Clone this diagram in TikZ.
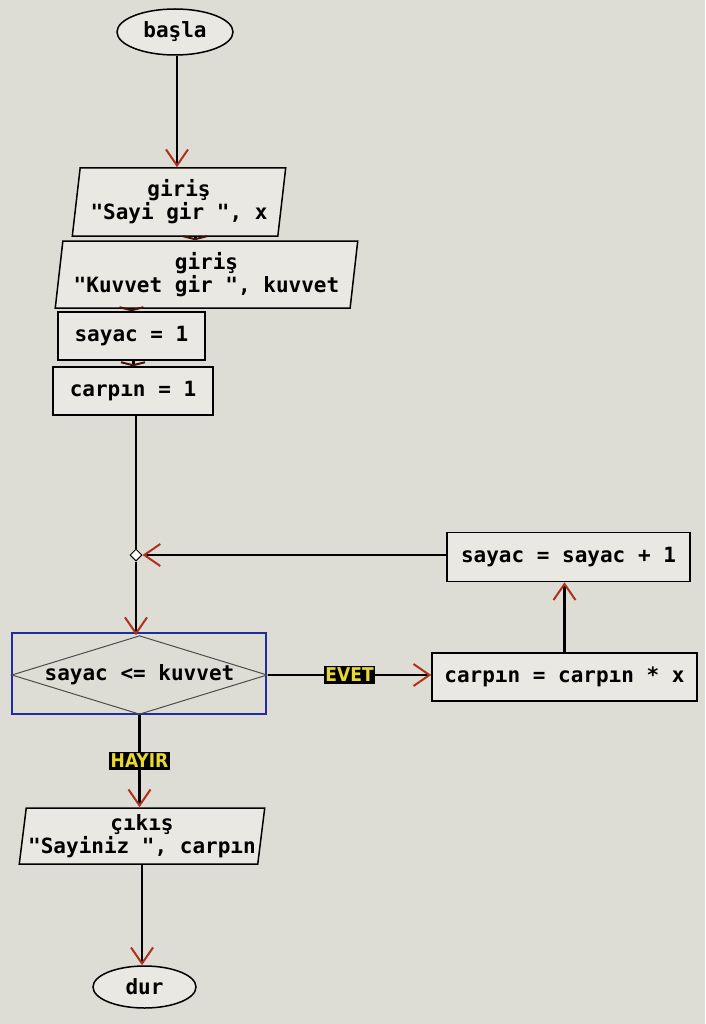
\documentclass[tikz,border=0pt]{standalone}
\usepackage{fontspec}
\newfontfamily\flowfont{DejaVu Sans Mono}
\newfontfamily\labelfont{DejaVu Sans Condensed}
\usetikzlibrary{shapes.geometric,arrows.meta}
\definecolor{screenbg}{HTML}{DEDDD5}
\definecolor{boxfill}{HTML}{E9E8E2}
\definecolor{tipred}{HTML}{B0301A}
\definecolor{frameblue}{HTML}{1E2E9E}
\definecolor{labelyellow}{HTML}{E8D830}
\tikzstyle{textfont} = [font=\flowfont\bfseries\fontsize{21}{23}\selectfont]
\tikzstyle{terminal} = [draw=black, fill=boxfill, ellipse, line width=1.5pt, inner sep=0pt, textfont]
\tikzstyle{iobox} = [draw=black, fill=boxfill, trapezium, trapezium left angle=81, trapezium right angle=99, trapezium stretches=true, line width=1.5pt, inner sep=0pt, align=center, textfont]
\tikzstyle{procbox} = [draw=black, fill=boxfill, rectangle, line width=1.5pt, inner sep=0pt, textfont]
\tikzstyle{decision} = [draw=black!70, diamond, aspect=3.25, line width=1pt, inner sep=0pt, textfont]
\tikzstyle{flow} = [line width=2.5pt, -{Straight Barb[color=tipred, length=16pt, width=22pt, line width=2pt]}]
\tikzstyle{shortflow} = [line width=3pt, -{Straight Barb[color=black!60!tipred, length=3pt, width=24pt, line width=2pt]}]
\tikzstyle{answer} = [fill=black, text=labelyellow, font=\labelfont\bfseries\fontsize{19}{20}\selectfont, inner xsep=1.5pt, inner ysep=2.5pt]

\begin{document}
\begin{tikzpicture}[x=1pt, y=-1pt]
\useasboundingbox[fill=screenbg] (0,0) rectangle (705,1024);

\node[terminal, minimum width=116, minimum height=46] (start) at (175,32) {başla};
\node[iobox, minimum width=214, minimum height=68] (in1) at (179,202) {giriş\\"Sayi gir ", x};
\node[iobox, minimum width=303, minimum height=67] (in2) at (206.5,274.5) {giriş\\"Kuvvet gir ", kuvvet};
\node[procbox, minimum width=147, minimum height=48] (set1) at (131.5,336) {sayac = 1};
\node[procbox, minimum width=160, minimum height=48] (prod1) at (133,391) {carpın = 1};
\node[draw=black, fill=white, diamond, minimum size=12, inner sep=0pt, line width=1pt] (loop) at (136,555) {};
\node[procbox, minimum width=243, minimum height=49] (inc) at (568.5,557) {sayac = sayac + 1};
\node[draw=frameblue, line width=2pt, minimum width=254, minimum height=81] (frame) at (139,673.5) {};
\node[decision, minimum width=247, minimum height=76] (test) at (139.5,675) {sayac <= kuvvet};
\node[procbox, minimum width=265, minimum height=48] (mul) at (564.5,677) {carpın = carpın * x};
\node[iobox, minimum width=246, minimum height=56] (out) at (142,836) {çıkış\\"Sayiniz ", carpın};
\node[terminal, minimum width=103, minimum height=42] (stop) at (144.5,987) {dur};

\draw[flow] (start.south -| 177,0) -- (in1.north -| 177,0);
\draw[shortflow] ([xshift=16pt]in1.south) -- ([xshift=16pt]in1.south |- in2.north);
\draw[shortflow] (set1.north |- in2.south) -- (set1.north);
\draw[shortflow] (set1.south -| prod1) -- (prod1.north);
\draw[line width=2.5pt] (loop |- prod1.south) -- (loop.north);
\draw[flow] (inc.west |- loop) -- (loop.east);
\draw[flow] (loop.south) -- (loop |- test.north);
\draw[flow] (test.east) -- node[answer] (yes) {EVET} (test.east -| mul.west);
\draw[flow] (mul.north) -- (mul.north |- inc.south);
\draw[flow] (test.south) -- node[answer] (no) {HAYIR} (test.south |- out.north);
\draw[flow] (out.south) -- (out.south |- stop.north);
\end{tikzpicture}
\end{document}
